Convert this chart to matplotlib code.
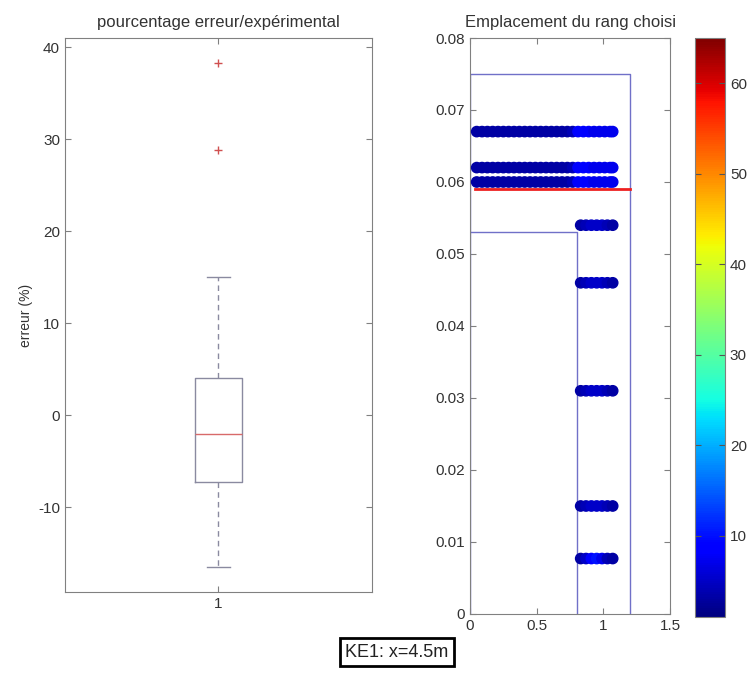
import numpy as np
import matplotlib
matplotlib.use("Agg")
import matplotlib.pyplot as plt

plt.rcParams['font.family'] = ['Liberation Sans', 'DejaVu Sans']
plt.rcParams['axes.unicode_minus'] = False

# boite a moustaches : erreur / experimental (%)
box_stats = dict(whislo=-16.5, q1=-7.3, med=-2.0, q3=4.1, whishi=15.0,
                 fliers=[28.8, 38.3], label="1")

# emplacement du rang choisi
row_y_wide = [0.067, 0.062, 0.060]
row_y_narrow = [0.054, 0.046, 0.031, 0.015, 0.0077]
x_wide = [0.05, 0.09, 0.13, 0.17, 0.21, 0.25, 0.29, 0.33, 0.37, 0.41, 0.45,
          0.49, 0.53, 0.57, 0.61, 0.65, 0.69, 0.73, 0.77, 0.81, 0.85, 0.89,
          0.93, 0.97, 1.01, 1.05, 1.07]
c_wide = [3, 3, 3, 3, 3, 3, 3, 3, 3, 3, 3, 3, 3, 3, 3, 3, 3, 3, 4, 8, 9, 8,
          7, 7, 7, 7, 7]
x_narrow = [0.83, 0.87, 0.91, 0.95, 0.99, 1.03, 1.07]
c_narrow = [3, 4, 5, 5, 5, 4, 3]
c_narrow_last = [3, 5, 8, 10, 7, 4, 3]

# contours (zone et rang)
outer_x = [0, 0, 1.2, 1.2]
outer_y = [0, 0.075, 0.075, 0]
inner_x = [0, 0.8, 0.8]
inner_y = [0.053, 0.053, 0]
rang_x = [0.04, 1.2]
rang_y = [0.059, 0.059]

fig = plt.figure(figsize=(7.53, 6.75), dpi=100)
axcol = '#808080'
txtcol = '#333333'
tsize = 11

# ---- gauche
ax1 = fig.add_axes([0.0863, 0.123, 0.4077, 0.8207])
ax1.bxp([box_stats], positions=[1], widths=0.156, capwidths=0.075,
        showfliers=True,
        boxprops=dict(color='#8a8aa0', linewidth=1),
        whiskerprops=dict(color='#8a8aa0', linewidth=1, linestyle=(0, (4, 3))),
        capprops=dict(color='#8a8aa0', linewidth=1),
        medianprops=dict(color='#d86a6a', linewidth=1),
        flierprops=dict(marker='+', markeredgecolor='#d05050', markersize=6,
                        linestyle='none'))
ax1.set_xlim(0.5, 1.5)
ax1.set_ylim(-19.2, 41)
ax1.set_yticks([-10, 0, 10, 20, 30, 40])
ax1.set_xticks([1])
ax1.set_xticklabels(["1"])
ax1.set_ylabel("erreur (%)", fontsize=10, color=txtcol)
ax1.yaxis.set_label_coords(-0.105, 0.5)
ax1.set_title("pourcentage erreur/expérimental", fontsize=12, color=txtcol, pad=8)

# ---- droite
ax2 = fig.add_axes([0.6242, 0.0904, 0.2656, 0.8533])
for y in row_y_wide:
    sc = ax2.scatter(x_wide, [y] * len(x_wide), c=c_wide, cmap='jet',
                     vmin=1, vmax=65, s=55, edgecolors='face', zorder=3)
for i, y in enumerate(row_y_narrow):
    cc = c_narrow_last if i == len(row_y_narrow) - 1 else c_narrow
    sc = ax2.scatter(x_narrow, [y] * len(x_narrow), c=cc, cmap='jet',
                     vmin=1, vmax=65, s=55, edgecolors='face', zorder=3)
ax2.plot(outer_x, outer_y, color='#7070c8', linewidth=1, zorder=2)
ax2.plot(inner_x, inner_y, color='#7070c8', linewidth=1, zorder=2)
ax2.plot(rang_x, rang_y, color='#ee2020', linewidth=2, zorder=4)
ax2.set_xlim(0, 1.5)
ax2.set_ylim(0, 0.08)
ax2.set_xticks([0, 0.5, 1, 1.5])
ax2.set_xticklabels(["0", "0.5", "1", "1.5"])
ax2.set_yticks([0, 0.01, 0.02, 0.03, 0.04, 0.05, 0.06, 0.07, 0.08])
ax2.set_yticklabels(["0", "0.01", "0.02", "0.03", "0.04", "0.05", "0.06",
                     "0.07", "0.08"])
ax2.set_title("Emplacement du rang choisi", fontsize=12, color=txtcol, pad=8)

for ax in (ax1, ax2):
    for sp in ax.spines.values():
        sp.set_color(axcol)
    ax.tick_params(direction='in', length=4, color=axcol, labelcolor=txtcol,
                   labelsize=tsize, top=True, right=True)

# ---- barre de couleur
cax = fig.add_axes([0.923, 0.0859, 0.0398, 0.858])
cb = fig.colorbar(sc, cax=cax)
cb.set_ticks([10, 20, 30, 40, 50, 60])
cb.outline.set_edgecolor(axcol)
cax.tick_params(direction='in', length=4, color='#555555', labelcolor=txtcol,
                labelsize=tsize, left=True, right=True)

fig.text(0.527, 0.034, "KE1: x=4.5m", fontsize=13, color='#222222',
         ha='center', va='center',
         bbox=dict(boxstyle='square,pad=0.3', facecolor='white',
                   edgecolor='black', linewidth=2))

fig.savefig("out.png", dpi=100)
